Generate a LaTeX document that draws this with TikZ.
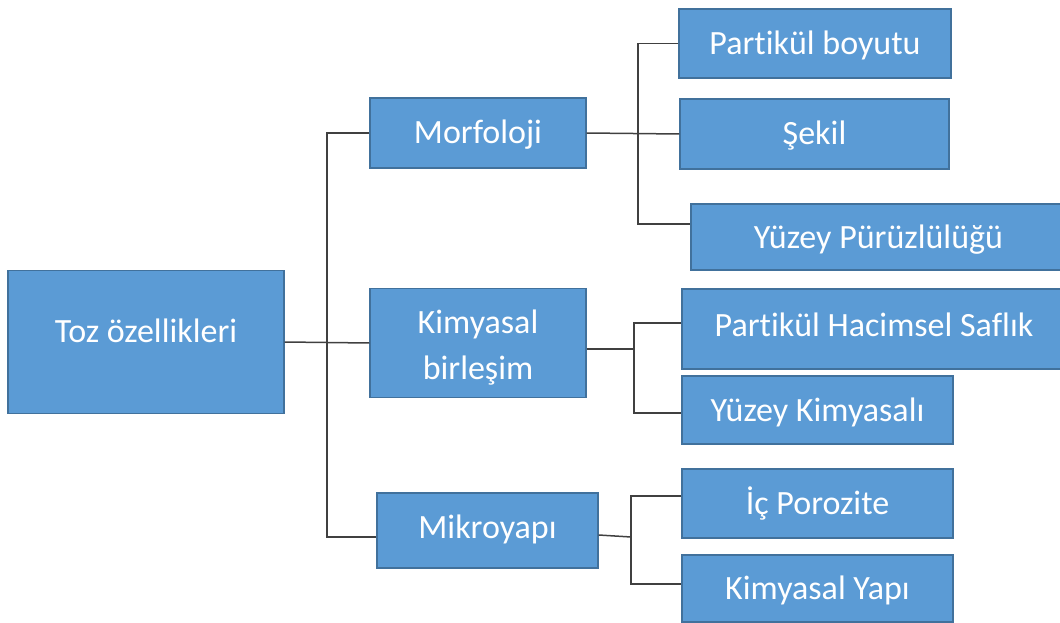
\documentclass[tikz,border=0pt]{standalone}
\usepackage{fontspec}
\setmainfont{Carlito}[Ligatures=NoCommon]
\definecolor{boxfill}{HTML}{5B9BD5}
\definecolor{boxline}{HTML}{41719C}
\definecolor{conn}{HTML}{404040}
\tikzset{
  box/.style={draw=boxline, line width=1.2pt, fill=boxfill, text=white, inner sep=0pt,
    font=\fontsize{34}{46}\selectfont},
  one/.style={box, text height=22pt, text depth=0pt},
  link/.style={draw=conn, line width=1.5pt}
}
\begin{document}
\begin{tikzpicture}[x=1pt,y=-1pt]
\useasboundingbox (0,0) rectangle (1060,623);
% level 0
\node[one, text depth=22pt, minimum width=276pt, minimum height=143pt] (toz) at (146,342) {Toz özellikleri};
% level 1
\node[one, minimum width=216pt, minimum height=70pt] (morf) at (478,133) {Morfoloji};
\node[box, align=center, text height=72pt, text depth=0pt, minimum width=216pt, minimum height=109pt] (kim) at (478,343) {Kimyasal\\birleşim};
\node[one, text depth=6pt, minimum width=221pt, minimum height=75pt] (mik) at (487.5,530.5) {Mikroyapı};
% level 2
\node[one, minimum width=272pt, minimum height=69pt] (pb) at (815,43.5) {Partikül boyutu};
\node[one, minimum width=269pt, minimum height=70pt] (sek) at (814.5,134) {Şekil};
\node[one, minimum width=375pt, minimum height=66pt] (yp) at (878.5,237) {Yüzey Pürüzlülüğü};
\node[one, text depth=8pt, minimum width=384pt, minimum height=80pt] (phs) at (874,329) {Partikül Hacimsel Saflık};
\node[one, minimum width=271pt, minimum height=68pt] (yk) at (817.5,410) {Yüzey Kimyasalı};
\node[one, minimum width=271pt, minimum height=69pt] (ip) at (817.5,503.5) {İç Porozite};
\node[one, minimum width=271pt, minimum height=67pt] (ky) at (817.5,588.5) {Kimyasal Yapı};
% junctions
\coordinate (t0) at (327,343);
\coordinate (t1) at (638,133);
\coordinate (t2) at (634,349);
\coordinate (t3) at (631,537);
% connectors
\draw[link] (toz.east) -- (kim.west);
\draw[link] (morf.west) -| (t0) |- ([yshift=-6.5pt]mik.west);
\draw[link] (morf.east) -- (sek.west);
\draw[link] (pb.west) -| (t1) |- ([yshift=13pt]yp.west);
\draw[link] ([yshift=-6pt]kim.east) -- (t2);
\draw[link] ([yshift=6pt]phs.west) -| (t2) |- ([yshift=-3pt]yk.west);
\draw[link] ([yshift=-4.5pt]mik.east) -- (t3);
\draw[link] ([yshift=7.5pt]ip.west) -| (t3) |- ([yshift=4.5pt]ky.west);
\end{tikzpicture}
\end{document}
